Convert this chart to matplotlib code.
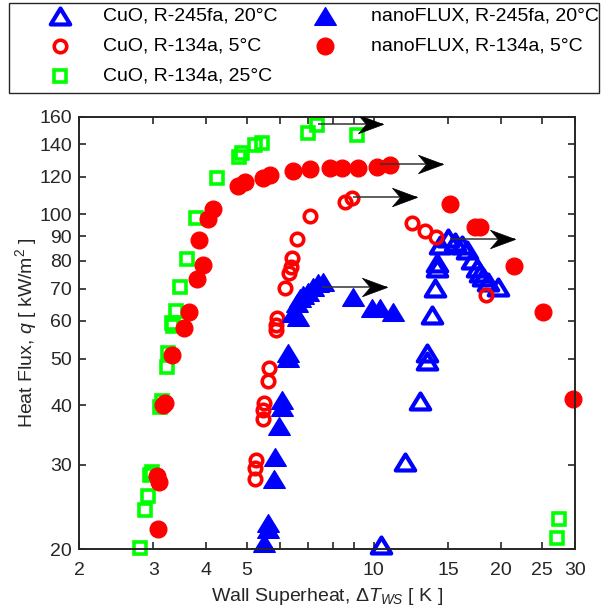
import matplotlib
matplotlib.use("Agg")
import matplotlib.pyplot as plt
from matplotlib.path import Path
from matplotlib.lines import Line2D
from matplotlib.patches import Rectangle
from matplotlib.ticker import NullLocator, FixedLocator, FixedFormatter

plt.rcParams['font.family'] = ['Liberation Sans', 'DejaVu Sans']
plt.rcParams['mathtext.fontset'] = 'custom'
plt.rcParams['mathtext.rm'] = 'Liberation Sans'
plt.rcParams['mathtext.it'] = 'Liberation Sans:italic'
plt.rcParams['mathtext.bf'] = 'Liberation Sans:bold'

# ---- data: wall superheat [K] and heat flux [kW/m^2] ----
cuo_r245fa_dt = [10.40, 11.86, 12.87, 13.35, 13.35, 13.77, 13.97, 14.10, 14.10, 14.36,
                 15.02, 15.58, 16.16, 16.61, 17.07, 17.55, 17.86, 18.19, 18.69, 19.74]
cuo_r245fa_q = [20.4, 30.5, 40.7, 51.3, 49.5, 61.7, 70.1, 79.1, 77.2, 86.4,
                89.2, 87.7, 86.4, 84.3, 80.4, 77.2, 75.4, 74.2, 72.4, 70.7]

cuo_r134a_5_dt = [5.23, 5.23, 5.25, 5.47, 5.47, 5.49, 5.62, 5.65, 5.86, 5.86, 5.88, 6.16,
                  6.31, 6.35, 6.40, 6.59, 7.06, 8.55, 8.87, 12.32, 13.23, 14.05, 18.46]
cuo_r134a_5_q = [28.1, 29.5, 30.7, 37.5, 39.1, 40.4, 44.9, 47.9, 57.3, 58.8, 60.7, 70.3,
                 75.5, 77.8, 81.0, 88.8, 99.5, 106.4, 108.5, 96.1, 92.5, 89.9, 67.9]

cuo_r134a_25_dt = [2.79, 2.87, 2.92, 2.95, 2.98, 3.11, 3.14, 3.23, 3.26, 3.33, 3.35, 3.40,
                   3.47, 3.60, 3.79, 4.26, 4.78, 4.86, 5.23, 5.42, 7.00, 7.35, 9.11, 27.2, 27.5]
cuo_r134a_25_q = [20.1, 24.2, 25.8, 28.6, 29.0, 39.7, 40.7, 48.1, 51.3, 59.3, 58.5, 62.9,
                  70.7, 80.6, 98.5, 119.4, 132.0, 134.2, 139.7, 140.8, 147.8, 153.8, 146.6, 21.1, 23.1]

nano_r245fa_dt = [5.49, 5.62, 5.62, 5.79, 5.83, 5.97, 6.05, 6.05, 6.27, 6.27, 6.45, 6.62,
                  6.57, 6.69, 6.81, 7.00, 7.19, 7.38, 7.59, 8.94, 9.89, 10.35, 11.13]
nano_r245fa_q = [20.6, 22.1, 22.7, 28.1, 31.2, 36.1, 39.7, 41.0, 50.1, 51.3, 62.2, 61.2,
                 65.3, 66.8, 67.9, 69.0, 70.7, 71.8, 72.4, 67.3, 63.7, 63.7, 62.7]

nano_r134a_dt = [3.08, 3.06, 3.10, 3.17, 3.20, 3.32, 3.55, 3.65, 3.80, 3.94, 3.86, 4.05,
                 4.16, 4.77, 4.95, 5.47, 5.68, 6.45, 7.06, 7.87, 8.40, 9.19, 10.16, 10.93,
                 15.16, 17.39, 17.86, 21.5, 25.2, 29.7]
nano_r134a_q = [22.0, 28.4, 27.7, 40.0, 40.4, 50.9, 58.0, 62.7, 73.2, 78.4, 88.5, 97.7,
                102.5, 114.7, 117.1, 119.0, 120.9, 123.3, 124.3, 124.9, 124.9, 124.9, 125.5, 126.9,
                105.0, 94.3, 94.3, 78.2, 62.7, 41.2]

# CHF arrows: start superheat, arrow tip superheat, heat flux
arrow_dt_start = [7.38, 10.35, 8.94, 7.53, 15.16]
arrow_dt_end = [10.53, 14.62, 12.64, 10.73, 21.6]
arrow_q = [154.3, 127.5, 108.6, 70.7, 88.8]

x_ticks = [2, 3, 4, 5, 6, 7, 8, 9, 10, 15, 20, 25, 30]
x_tick_labels = ['2', '3', '4', '5', '', '', '', '', '10', '15', '20', '25', '30']
y_ticks = [20, 30, 40, 50, 60, 70, 80, 90, 100, 120, 140, 160]
y_tick_labels = [str(v) for v in y_ticks]

labels = ['CuO, R-245fa, 20°C', 'CuO, R-134a, 5°C', 'CuO, R-134a, 25°C',
          'nanoFLUX, R-245fa, 20°C', 'nanoFLUX, R-134a, 5°C']

# ---- marker shapes ----
tri = Path([(0, 0.82), (-1, -0.82), (1, -0.82), (0, 0.82)],
           [Path.MOVETO, Path.LINETO, Path.LINETO, Path.CLOSEPOLY])
head = Path([(0, 0), (-1, 0.37), (-0.68, 0), (-1, -0.37), (0, 0)],
            [Path.MOVETO, Path.LINETO, Path.LINETO, Path.LINETO, Path.CLOSEPOLY])

BLUE, RED, GREEN = '#0000ff', '#ff0000', '#00ff00'
TXT = '#262626'

styles = [
    dict(marker=tri, ms=14.0, mew=3.0, mfc='none', mec=BLUE),
    dict(marker='o', ms=9.0, mew=2.6, mfc='none', mec=RED),
    dict(marker='s', ms=9.0, mew=2.6, mfc='none', mec=GREEN),
    dict(marker=tri, ms=15.5, mew=1.0, mfc=BLUE, mec=BLUE),
    dict(marker='o', ms=12.0, mew=1.0, mfc=RED, mec=RED),
]
series = [(cuo_r245fa_dt, cuo_r245fa_q), (cuo_r134a_5_dt, cuo_r134a_5_q),
          (cuo_r134a_25_dt, cuo_r134a_25_q), (nano_r245fa_dt, nano_r245fa_q),
          (nano_r134a_dt, nano_r134a_q)]

W, H = 603, 614
fig = plt.figure(figsize=(W / 100, H / 100), dpi=100)
ax = fig.add_axes([79 / W, 1 - 549.3 / H, 496 / W, 432.6 / H])

for (x, y), st in zip(series, styles):
    ax.plot(x, y, linestyle='none', clip_on=False, **st)

for x0, x1, q in zip(arrow_dt_start, arrow_dt_end, arrow_q):
    ax.plot([x0, x1], [q, q], color='#333333', lw=1.1, solid_capstyle='butt', zorder=5)
    ax.plot([x1], [q], marker=head, ms=36, mfc='black', mec='black', mew=0.5,
            linestyle='none', zorder=6)

ax.set_xscale('log')
ax.set_yscale('log')
ax.set_xlim(2, 30)
ax.set_ylim(20, 160)
ax.xaxis.set_major_locator(FixedLocator(x_ticks))
ax.xaxis.set_major_formatter(FixedFormatter(x_tick_labels))
ax.yaxis.set_major_locator(FixedLocator(y_ticks))
ax.yaxis.set_major_formatter(FixedFormatter(y_tick_labels))
ax.xaxis.set_minor_locator(NullLocator())
ax.yaxis.set_minor_locator(NullLocator())
ax.tick_params(which='both', direction='in', top=True, right=True, length=5,
               width=1.2, labelsize=14, colors=TXT)
ax.tick_params(axis='x', pad=9)
ax.tick_params(axis='y', pad=5)
for sp in ax.spines.values():
    sp.set_linewidth(1.4)
    sp.set_color(TXT)

ax.set_xlabel('Wall Superheat, Δ$T_{WS}$ [ K ]', fontsize=14, color=TXT, labelpad=5)
ax.set_ylabel('Heat Flux, $q$ [ kW/m$^2$ ]', fontsize=14, color=TXT, labelpad=0)

# ---- legend box across the top ----
def fx(px):
    return px / W

def fy(py):
    return 1 - py / H

fig.add_artist(Rectangle((fx(9), fy(93)), fx(599) - fx(9), fy(3) - fy(93),
                         transform=fig.transFigure, fill=False, ec=TXT, lw=1.0))
legend_pos = [(60, 103, 16), (60, 103, 46), (60, 103, 76), (325, 371, 16), (325, 371, 46)]
for (mx, tx, ry), st, lab in zip(legend_pos, styles, labels):
    fig.add_artist(Line2D([fx(mx)], [fy(ry)], transform=fig.transFigure,
                          linestyle='none', **st))
    fig.text(fx(tx), fy(ry), lab, fontsize=14, color='black', va='center', ha='left')

fig.savefig('out.png', dpi=100)
